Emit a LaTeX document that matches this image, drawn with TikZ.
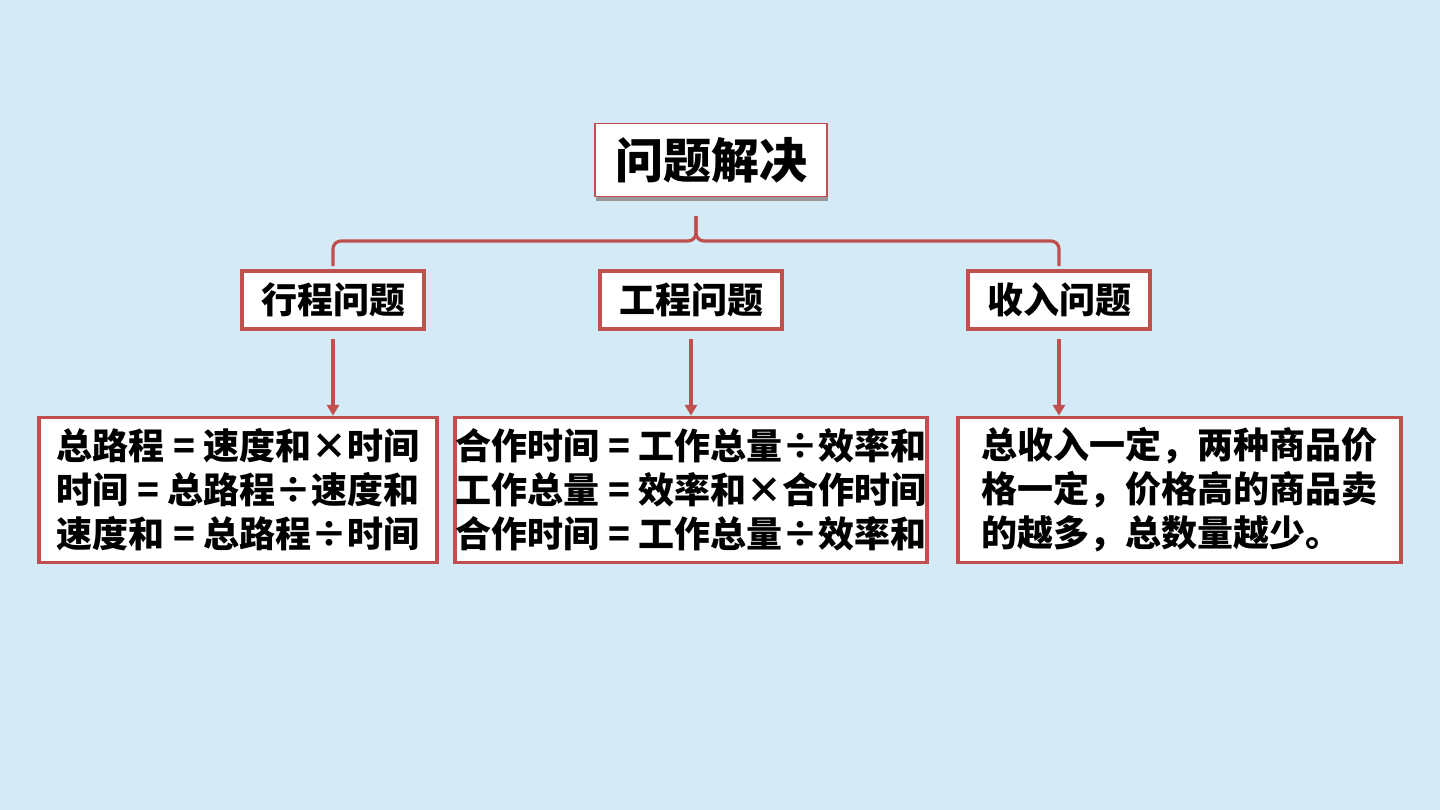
\documentclass[tikz,border=0pt]{standalone}
\usepackage{fontspec}
\setmainfont{Noto Sans CJK SC}
\usepackage{xcolor}
\usetikzlibrary{arrows.meta, positioning, shadows}

\definecolor{bgblue}{RGB}{212,234,246}
\definecolor{boxred}{RGB}{192,80,77}

\begin{document}
\begin{tikzpicture}[
  x=0.75pt, y=-0.75pt,
  title/.style={rectangle, draw=boxred, line width=1.2pt, fill=white, minimum width=174pt, minimum height=55pt, font=\fontsize{36}{40}\selectfont\bfseries, drop shadow={shadow xshift=1pt, shadow yshift=-3pt, fill=gray!80, opacity=1}},
  topic/.style={rectangle, draw=boxred, line width=3pt, fill=white, minimum width=136pt, minimum height=44pt, font=\fontsize{27}{32}\selectfont\bfseries},
  detail/.style={rectangle, draw=boxred, line width=2.6pt, fill=white, align=left, inner sep=0pt, minimum height=109pt, font=\fontsize{27}{33}\selectfont\bfseries},
  brace/.style={draw=boxred, line width=2.4pt, rounded corners=6pt},
  arrow/.style={draw=boxred, line width=2.4pt, -{Triangle[length=8pt, width=9pt]}}
]
\useasboundingbox (0,0) rectangle (1440,810);
\fill[bgblue] (0,0) rectangle (1440,810);

% title and three topics
\node (root) [title] at (711,160) {问题解决};
\node (xc) [topic] at (333,300) {行程问题};
\node (gc) [topic] at (691,300) {工程问题};
\node (sr) [topic] at (1059,300) {收入问题};

% formula boxes
\node (xcd) [detail, minimum width=298.5pt] at (238,490) {总路程 = 速度和×时间\\时间 = 总路程÷速度和\\速度和 = 总路程÷时间};
\node (gcd) [detail, minimum width=354pt] at (691,490) {合作时间 = 工作总量÷效率和\\工作总量 = 效率和×合作时间\\合作时间 = 工作总量÷效率和};
\node (srd) [detail, minimum width=332pt] at (1179.5,490) {总收入一定，两种商品价\\格一定，价格高的商品卖\\的越多，总数量越少。};

% brace under the title
\coordinate (peak) at (696,216);
\coordinate (bar) at (696,241);
\draw [brace] ([yshift=2pt]xc.north) |- (bar) -- (peak);
\draw [brace] ([yshift=2pt]sr.north) |- (bar) -- (peak);

\draw [arrow] ([yshift=-6pt]xc.south) -- (xc.south |- xcd.north);
\draw [arrow] ([yshift=-6pt]gc.south) -- (gcd.north);
\draw [arrow] ([yshift=-6pt]sr.south) -- (sr.south |- srd.north);

\end{tikzpicture}
\end{document}
